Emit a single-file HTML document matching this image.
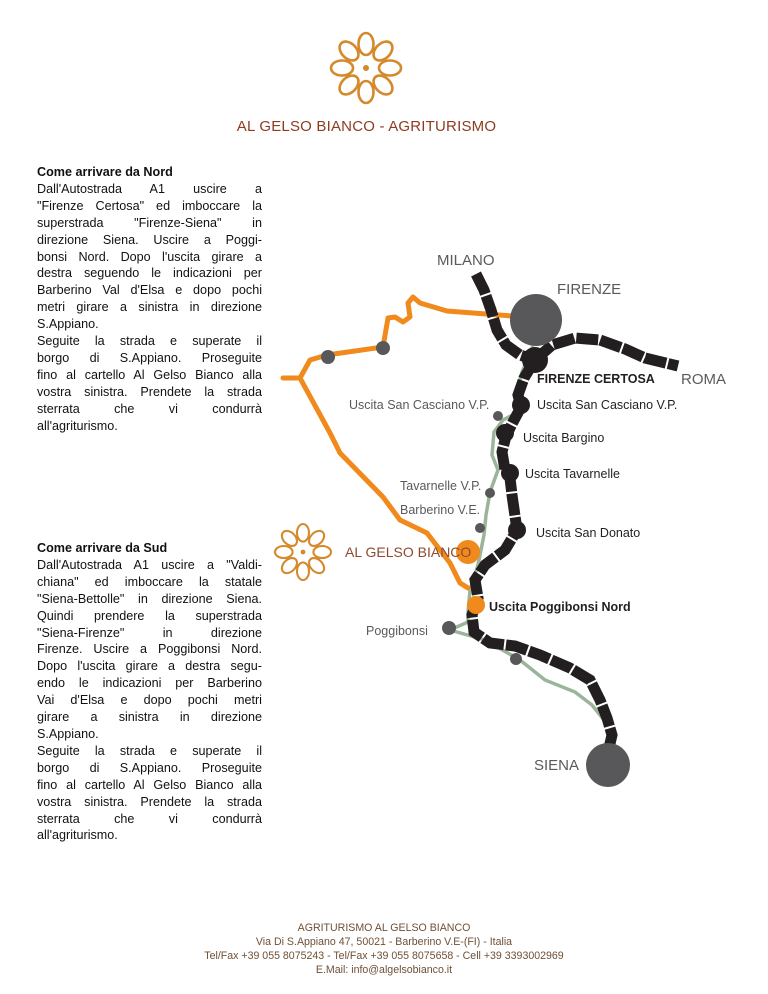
<!DOCTYPE html>
<html><head><meta charset="utf-8"><style>
body{margin:0;background:#fff;width:768px;height:994px;position:relative;overflow:hidden;font-family:"Liberation Sans",sans-serif}
.col{position:absolute;left:37px;width:225px;font-size:12.6px;color:#111;line-height:16.9px}
.col div{white-space:nowrap;text-align:justify;text-align-last:justify}
.col div.l{text-align:left;text-align-last:left}
.col b{font-weight:bold}
.title{position:absolute;top:118px;left:0;width:733px;text-align:center;font-size:15px;color:#8e3b22;letter-spacing:0.2px}
.foot{position:absolute;top:921px;left:0;width:768px;text-align:center;font-size:10.6px;line-height:14px;color:#6e5036}
</style></head><body>
<svg width="768" height="994" style="position:absolute;left:0;top:0">
<defs>
<g id="petals" fill="none" stroke="#d4892a" stroke-width="2.6">
<ellipse cx="0" cy="-24" rx="7.5" ry="11"/>
<ellipse cx="0" cy="-24" rx="7.5" ry="11" transform="rotate(45)"/>
<ellipse cx="0" cy="-24" rx="7.5" ry="11" transform="rotate(90)"/>
<ellipse cx="0" cy="-24" rx="7.5" ry="11" transform="rotate(135)"/>
<ellipse cx="0" cy="-24" rx="7.5" ry="11" transform="rotate(180)"/>
<ellipse cx="0" cy="-24" rx="7.5" ry="11" transform="rotate(225)"/>
<ellipse cx="0" cy="-24" rx="7.5" ry="11" transform="rotate(270)"/>
<ellipse cx="0" cy="-24" rx="7.5" ry="11" transform="rotate(315)"/>
<circle cx="0" cy="0" r="3" fill="#d4892a" stroke="none"/>
</g>
</defs>
<use href="#petals" transform="translate(366,68)"/>
<use href="#petals" transform="translate(303,552) scale(0.8)"/>

<path d="M533,346 L522,372 L516,395 L522,410 L503,420 L494,432 L492,455 L498,470 L490,492 L486,515 L484,535 L478,565 L470,590 L468,612 L468,622 L450,630 L485,640 L520,660 L545,680 L575,692 L592,705 L608,725" fill="none" stroke="#9bb59a" stroke-width="3.5"/>

<path d="M512,316 L447,311 L420,303 L413,297 L408,303 L410,317 L403,322 L395,317 L388,318 L383,347 L327,355 L310,360 L300,378 L283,378 M300,378 L330,433 L340,453 L383,497 L400,520 L427,533 L450,563 L460,583 L468,588" fill="none" stroke="#f08a1c" stroke-width="5" stroke-linejoin="round" stroke-linecap="round"/>

<g fill="none" stroke="#231f20" stroke-width="11" stroke-dasharray="22 2">
<path d="M476,274 L484,290 L491,310 L497,330 L506,345 L520,355 L535,360"/>
<path d="M535,360 L552,345 L575,338 L600,340 L625,349 L645,358 L678,366"/>
<path d="M535,360 L524,378 L518,395 L521,407 L513,422 L506,436 L502,452 L505,470 L510,478 L512,495 L517,530 L505,550 L485,565 L475,580 L478,598 L472,615 L474,632 L490,643 L515,646 L540,655 L570,668 L590,680 L600,700 L607,718 L612,735 L609,748"/>
</g>
<circle cx="536" cy="320" r="26" fill="#58585a"/>
<circle cx="608" cy="765" r="22" fill="#58585a"/>
<g fill="#231f20">
<circle cx="535" cy="360" r="13"/><circle cx="521" cy="405" r="9"/><circle cx="505" cy="433" r="9"/><circle cx="510" cy="473" r="9"/><circle cx="517" cy="530" r="9"/>
</g>
<g fill="#58585a">
<circle cx="498" cy="416" r="5"/><circle cx="490" cy="493" r="5"/><circle cx="480" cy="528" r="5"/><circle cx="449" cy="628" r="7"/><circle cx="516" cy="659" r="6"/><circle cx="383" cy="348" r="7"/><circle cx="328" cy="357" r="7"/>
</g>
<circle cx="468" cy="552" r="12" fill="#f08a1c"/>
<circle cx="476" cy="605" r="9" fill="#f08a1c"/>

<g font-family="Liberation Sans, sans-serif" fill="#5a5a5c">
<text x="437" y="265" font-size="15">MILANO</text>
<text x="557" y="294" font-size="15">FIRENZE</text>
<text x="681" y="384" font-size="15">ROMA</text>
<text x="534" y="770" font-size="15">SIENA</text>
<text x="349" y="409" font-size="12.5">Uscita San Casciano V.P.</text>
<text x="400" y="490" font-size="12.5">Tavarnelle V.P.</text>
<text x="400" y="514" font-size="12.5">Barberino V.E.</text>
<text x="366" y="635" font-size="12.5">Poggibonsi</text>
<text x="345" y="557" font-size="14" fill="#8e4b2c">AL GELSO BIANCO</text>
</g>
<g font-family="Liberation Sans, sans-serif" fill="#231f20" font-size="12.5">
<text x="537" y="383" font-weight="bold">FIRENZE CERTOSA</text>
<text x="537" y="409">Uscita San Casciano V.P.</text>
<text x="523" y="442">Uscita Bargino</text>
<text x="525" y="478">Uscita Tavarnelle</text>
<text x="536" y="537">Uscita San Donato</text>
<text x="489" y="611" font-weight="bold">Uscita Poggibonsi Nord</text>
</g>
</svg>

<div class="title">AL GELSO BIANCO - AGRITURISMO</div>

<div class="col" style="top:164px">
<div class="l"><b>Come arrivare da Nord</b></div>
<div>Dall'Autostrada A1 uscire a</div>
<div>"Firenze Certosa" ed imboccare la</div>
<div>superstrada "Firenze-Siena" in</div>
<div>direzione Siena. Uscire a Poggi-</div>
<div>bonsi Nord. Dopo l'uscita girare a</div>
<div>destra seguendo le indicazioni per</div>
<div>Barberino Val d'Elsa e dopo pochi</div>
<div>metri girare a sinistra in direzione</div>
<div class="l">S.Appiano.</div>
<div>Seguite la strada e superate il</div>
<div>borgo di S.Appiano. Proseguite</div>
<div>fino al cartello Al Gelso Bianco alla</div>
<div>vostra sinistra. Prendete la strada</div>
<div>sterrata che vi condurrà</div>
<div class="l">all'agriturismo.</div>
</div>

<div class="col" style="top:540px">
<div class="l"><b>Come arrivare da Sud</b></div>
<div>Dall'Autostrada A1 uscire a "Valdi-</div>
<div>chiana" ed imboccare la statale</div>
<div>"Siena-Bettolle" in direzione Siena.</div>
<div>Quindi prendere la superstrada</div>
<div>"Siena-Firenze" in direzione</div>
<div>Firenze. Uscire a Poggibonsi Nord.</div>
<div>Dopo l'uscita girare a destra segu-</div>
<div>endo le indicazioni per Barberino</div>
<div>Vai d'Elsa e dopo pochi metri</div>
<div>girare a sinistra in direzione</div>
<div class="l">S.Appiano.</div>
<div>Seguite la strada e superate il</div>
<div>borgo di S.Appiano. Proseguite</div>
<div>fino al cartello Al Gelso Bianco alla</div>
<div>vostra sinistra. Prendete la strada</div>
<div>sterrata che vi condurrà</div>
<div class="l">all'agriturismo.</div>
</div>

<div class="foot">AGRITURISMO AL GELSO BIANCO<br>Via Di S.Appiano 47, 50021 - Barberino V.E-(FI) - Italia<br>Tel/Fax +39 055 8075243 - Tel/Fax +39 055 8075658 - Cell +39 3393002969<br>E.Mail: info@algelsobianco.it</div>
</body></html>
